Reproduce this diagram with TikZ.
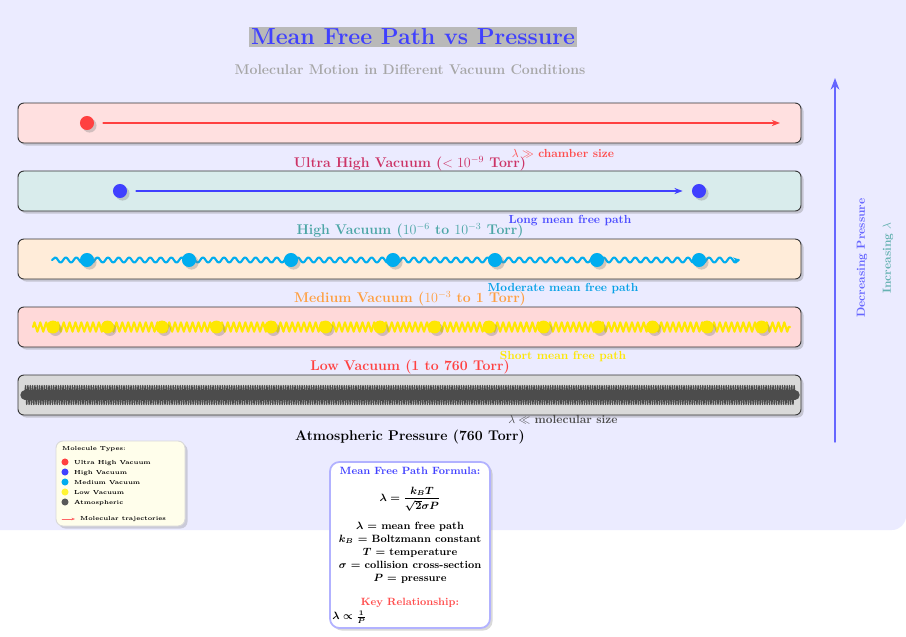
\documentclass[tikz,border=0pt]{standalone}
\usepackage{amsmath, amssymb}
\usetikzlibrary{arrows.meta, positioning, calc, decorations.pathmorphing, shadows}

\begin{document}
\begin{tikzpicture}[x=0.03cm, y=-0.03cm, >=Stealth, line cap=round, line join=round]
	%======================
	% STYLES
	%======================
	\tikzset{
		band/.style={draw=black!80, thick, rounded corners=5pt, drop shadow={opacity=0.35}},
		bandlabel/.style={font=\large\bfseries},
		note/.style={font=\normalsize\bfseries},
		mol/.style={circle, inner sep=0pt, minimum size=12pt, drop shadow={opacity=0.35}},
		traj/.style={line width=2pt, -{Stealth[length=7pt]}},
		legdot/.style={circle, inner sep=0pt, minimum size=6pt},
		legtext/.style={font=\tiny\bfseries, anchor=west},
		ftext/.style={font=\small\bfseries\boldmath}
	}
	\useasboundingbox (0,0) rectangle (906,636);
	
	% background panel
	\fill[blue!8, rounded corners=12pt] (-20,-20) rectangle (906,530);
	
	% title
	\node[fill=gray!55, text=blue!75, font=\fontsize{19.8}{24}\selectfont\bfseries, inner sep=2pt] (title) at (413,37) {Mean Free Path vs Pressure};
	\node[text=gray!70, font=\large\bfseries] (subtitle) at (410,70) {Molecular Motion in Different Vacuum Conditions};
	
	% bands
	\draw[band, fill=red!12]    (18,103) rectangle (801,143);
	\draw[band, fill=teal!15]   (18,171) rectangle (801,211);
	\draw[band, fill=orange!15] (18,239) rectangle (801,279);
	\draw[band, fill=red!15]    (18,307) rectangle (801,347);
	\draw[band, fill=gray!30]   (18,375) rectangle (801,415);
	
	% ultra high vacuum
	\node[mol, fill=red!75] (uhv) at (87,123) {};
	\coordinate (uhvend) at (780,123);
	\draw[traj, red!75] ([xshift=14pt]uhv.center) -- (uhvend);
	
	% high vacuum
	\node[mol, fill=blue!75] (hva) at (120,191) {};
	\node[mol, fill=blue!75] (hvb) at (699,191) {};
	\draw[traj, blue!75] ([xshift=14pt]hva.center) -- ([xshift=-14pt]hvb.center);
	
	% medium vacuum
	\coordinate (mva) at (52,260);
	\coordinate (mvb) at (740,260);
	\draw[cyan, line width=1.8pt, decorate, decoration={snake, segment length=9pt, amplitude=2.2pt}, -{Stealth[length=6pt]}] (mva) -- (mvb);
	\foreach \i in {0,...,6}
		\node[mol, fill=cyan] (mv\i) at ({87+102*\i},260) {};
	
	% low vacuum
	\coordinate (lva) at (33,327);
	\coordinate (lvb) at (790,327);
	\draw[yellow!90!orange, line width=1.8pt, decorate, decoration={zigzag, segment length=5pt, amplitude=4pt}] (lva) -- (lvb);
	\foreach \i in {0,...,13}
		\node[mol, fill=yellow!90!orange, minimum size=11pt] (lv\i) at ({53+54.5*\i},327) {};
	
	% atmospheric
	\coordinate (ata) at (25,395);
	\coordinate (atb) at (795,395);
	\draw[black!70, line width=1.2pt, decorate, decoration={zigzag, segment length=2pt, amplitude=8pt}] (ata) -- (atb);
	\draw[black!70, line width=8pt] (ata) -- (atb);
	
	% labels
	\node[note, text=red!70] (n1) at (563,154) {$\lambda \gg$ chamber size};
	\node[bandlabel, text=purple!80] (l1) at (410,164) {Ultra High Vacuum ($<10^{-9}$ Torr)};
	\node[note, text=blue!70] (n2) at (570,221) {Long mean free path};
	\node[bandlabel, text=teal!70] (l2) at (410,231) {High Vacuum ($10^{-6}$ to $10^{-3}$ Torr)};
	\node[note, text=cyan!90!blue] (n3) at (563,289) {Moderate mean free path};
	\node[bandlabel, text=orange!75] (l3) at (410,299) {Medium Vacuum ($10^{-3}$ to 1 Torr)};
	\node[note, text=yellow!90!orange] (n4) at (563,357) {Short mean free path};
	\node[bandlabel, text=red!75] (l4) at (410,367) {Low Vacuum (1 to 760 Torr)};
	\node[note, text=black!70] (n5) at (563,420) {$\lambda \ll$ molecular size};
	\node[bandlabel] (l5) at (410,437) {Atmospheric Pressure (760 Torr)};
	
	% pressure axis
	\coordinate (axbot) at (835,442);
	\coordinate (axtop) at (835,78);
	\draw[blue!60, line width=1.2pt, -{Stealth[length=10pt]}] (axbot) -- (axtop);
	\node[rotate=90, text=blue!60, font=\normalsize\bfseries] (dec) at (862,258) {Decreasing Pressure};
	\node[rotate=90, text=teal!60, font=\normalsize\bfseries] (inc) at (888,258) {Increasing $\lambda$};
	
	% legend
	\draw[draw=gray!30, fill=yellow!8, rounded corners=6pt, thick, drop shadow={opacity=0.3}] (56,441) rectangle (185,526);
	\node[legtext] (legtitle) at (58,449) {Molecule Types:};
	\foreach \c/\t [count=\k] in {red!75/Ultra High Vacuum, blue!75/High Vacuum, cyan/Medium Vacuum, yellow!80/Low Vacuum, black!65/Atmospheric}{
		\node[legdot, fill=\c] (ld\k) at (65,{452+10*\k}) {};
		\node[legtext] (lt\k) at (70,{453+10*\k}) {\t};
	}
	\coordinate (lta) at (62,519);
	\coordinate (ltb) at (75,519);
	\draw[red!60, ->, >={Stealth[length=3pt]}] (lta) -- (ltb);
	\node[legtext] (lt6) at (76,519) {Molecular trajectories};
	
	% formula box
	\draw[draw=blue!30, fill=white, line width=1.5pt, rounded corners=8pt, drop shadow={opacity=0.3}] (330,462) rectangle (490,628);
	\node[text=blue!75, font=\small\bfseries] (ftitle) at (410,471) {Mean Free Path Formula:};
	\node[ftext] (fmain) at (410,499) {$\lambda = \dfrac{k_B T}{\sqrt{2}\sigma P}$};
	\node[ftext, align=center, inner sep=0pt] (fdefs) at (410,553) {$\lambda$ = mean free path\\$k_B$ = Boltzmann constant\\$T$ = temperature\\$\sigma$ = collision cross-section\\$P$ = pressure};
	\node[text=red!70, font=\small\bfseries, inner sep=1pt] (fkey) at (410,603) {Key Relationship:};
	\node[ftext, anchor=west, inner sep=1pt] (fprop) at (331,617) {$\lambda \propto \frac{1}{P}$};
\end{tikzpicture}
\end{document}
